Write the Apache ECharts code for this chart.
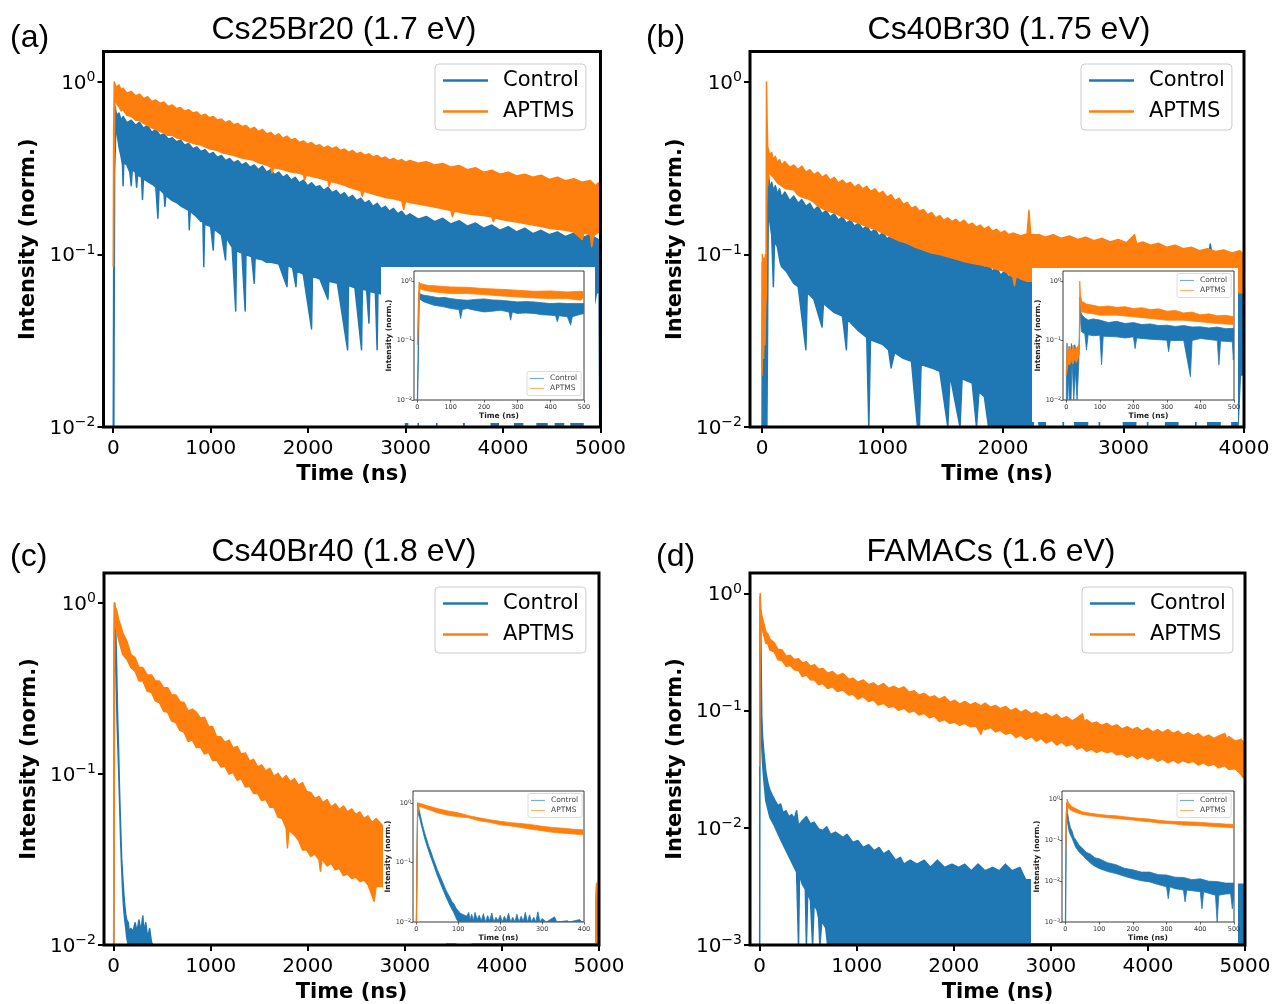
<!DOCTYPE html>
<html><head><meta charset="utf-8">
<script src="https://cdn.jsdelivr.net/npm/echarts/dist/echarts.min.js"></script>
<style>html,body{margin:0;padding:0;background:#fff}#c{width:1275px;height:1004px}</style>
</head><body><div id="c"></div>
<script>
// ---------------- tick labels ----------------
const X_TICKS_5000 = [0,1000,2000,3000,4000,5000];
const X_TICKS_4000 = [0,1000,2000,3000,4000];
const Y_TICKS_2 = [0.01,0.1,1];
const Y_TICKS_3 = [0.001,0.01,0.1,1];
const IN_X_500 = [0,100,200,300,400,500];
const IN_X_400 = [0,100,200,300,400];
const SERIES_NAMES = ['Control','APTMS'];
const TITLES = ['Cs25Br20 (1.7 eV)','Cs40Br30 (1.75 eV)','Cs40Br40 (1.8 eV)','FAMACs (1.6 eV)'];
const LETTERS = ['(a)','(b)','(c)','(d)'];

// ---------------- panel (a) : noisy band upper / lower edges [t(ns), I] ----------------
const A_CTRL_HI = [[0,0.01],[8,0.45],[18,0.72],[35,0.64],[59,0.66],[80,0.6],[101,0.63],[140,0.58],[185,0.6],[230,0.56],[269,0.585],[311,0.54],[353,0.56],[395,0.51],[437,0.53],[480,0.49],[521,0.5],[565,0.465],[606,0.475],[648,0.45],[690,0.46],[732,0.43],[774,0.44],[816,0.41],[858,0.42],[900,0.395],[942,0.405],[985,0.38],[1026,0.39],[1068,0.365],[1110,0.375],[1152,0.35],[1194,0.36],[1236,0.34],[1278,0.35],[1320,0.33],[1362,0.34],[1405,0.32],[1447,0.33],[1490,0.31],[1531,0.325],[1573,0.3],[1615,0.31],[1657,0.29],[1699,0.3],[1741,0.28],[1783,0.29],[1825,0.27],[1867,0.28],[1910,0.26],[1951,0.27],[1993,0.25],[2035,0.26],[2077,0.245],[2119,0.25],[2161,0.235],[2203,0.245],[2245,0.228],[2288,0.235],[2330,0.22],[2372,0.228],[2414,0.212],[2456,0.22],[2498,0.205],[2540,0.212],[2582,0.198],[2624,0.205],[2666,0.19],[2708,0.198],[2750,0.184],[2792,0.19],[2834,0.178],[2876,0.185],[2918,0.172],[2960,0.178],[3002,0.166],[3044,0.172],[3130,0.16],[3213,0.166],[3297,0.155],[3381,0.162],[3465,0.15],[3549,0.157],[3633,0.146],[3717,0.152],[3800,0.142],[3885,0.148],[3970,0.138],[4054,0.145],[4138,0.135],[4222,0.142],[4306,0.132],[4390,0.138],[4474,0.13],[4558,0.135],[4642,0.127],[4726,0.133],[4811,0.125],[4895,0.13],[4979,0.122],[5000,0.12]];
const A_CTRL_LO = [[6,0.01],[14,0.3],[25,0.5],[40,0.5],[59,0.42],[80,0.37],[95,0.33],[101,0.25],[108,0.34],[140,0.33],[170,0.3],[185,0.25],[195,0.31],[227,0.3],[240,0.245],[250,0.29],[290,0.28],[300,0.208],[310,0.275],[350,0.265],[400,0.255],[437,0.245],[458,0.162],[470,0.24],[521,0.225],[530,0.19],[540,0.22],[606,0.205],[648,0.2],[700,0.19],[774,0.18],[780,0.139],[790,0.178],[858,0.165],[900,0.155],[920,0.155],[929,0.085],[938,0.15],[1000,0.145],[1026,0.106],[1035,0.14],[1110,0.13],[1152,0.093],[1160,0.125],[1220,0.11],[1257,0.047],[1265,0.105],[1320,0.102],[1354,0.047],[1362,0.1],[1420,0.097],[1447,0.068],[1456,0.095],[1530,0.093],[1573,0.09],[1620,0.09],[1699,0.088],[1783,0.065],[1792,0.086],[1840,0.084],[1875,0.065],[1884,0.08],[1950,0.077],[2035,0.037],[2044,0.075],[2120,0.072],[2203,0.055],[2212,0.07],[2300,0.068],[2405,0.028],[2414,0.066],[2480,0.064],[2548,0.028],[2556,0.063],[2600,0.062],[2624,0.04],[2632,0.061],[2690,0.06],[2708,0.028],[2716,0.06],[2780,0.058],[2850,0.05],[2950,0.045],[3000,0.01],[3020,0.01],[3040,0.04],[3100,0.036],[3130,0.01],[3150,0.035],[3300,0.032],[3320,0.01],[3350,0.032],[3500,0.03],[3600,0.01],[3620,0.03],[3850,0.028],[3880,0.01],[3950,0.01],[3970,0.028],[4100,0.027],[4120,0.01],[4200,0.01],[4220,0.027],[4330,0.026],[4350,0.01],[4450,0.01],[4470,0.026],[4540,0.01],[4620,0.01],[4640,0.026],[4700,0.01],[4820,0.01],[4840,0.026],[4960,0.06],[4985,0.06],[4992,0.01],[5000,0.01]];
const A_APT_HI = [[0,0.085],[4,0.5],[10,1.0],[30,0.93],[59,0.96],[80,0.9],[101,0.92],[140,0.86],[185,0.88],[230,0.83],[269,0.85],[311,0.8],[353,0.82],[395,0.77],[437,0.785],[480,0.75],[521,0.765],[565,0.72],[606,0.735],[648,0.7],[690,0.71],[732,0.675],[774,0.69],[816,0.66],[858,0.67],[900,0.635],[942,0.65],[985,0.62],[1026,0.63],[1068,0.6],[1110,0.61],[1152,0.58],[1194,0.595],[1236,0.565],[1278,0.575],[1320,0.55],[1362,0.56],[1405,0.53],[1447,0.545],[1490,0.515],[1531,0.53],[1573,0.5],[1615,0.51],[1657,0.485],[1699,0.5],[1741,0.47],[1783,0.485],[1825,0.46],[1867,0.47],[1910,0.445],[1951,0.455],[1993,0.435],[2035,0.445],[2077,0.425],[2119,0.432],[2161,0.413],[2203,0.425],[2245,0.41],[2288,0.42],[2330,0.4],[2372,0.408],[2414,0.39],[2456,0.4],[2498,0.383],[2540,0.39],[2582,0.375],[2624,0.383],[2666,0.367],[2708,0.375],[2750,0.36],[2792,0.367],[2834,0.352],[2876,0.36],[2918,0.347],[2960,0.355],[3002,0.342],[3044,0.35],[3128,0.338],[3213,0.345],[3297,0.33],[3381,0.337],[3465,0.32],[3549,0.328],[3633,0.31],[3717,0.318],[3800,0.3],[3885,0.308],[3970,0.292],[4054,0.3],[4138,0.285],[4222,0.292],[4306,0.28],[4390,0.288],[4474,0.272],[4558,0.28],[4642,0.267],[4726,0.275],[4811,0.262],[4895,0.268],[4950,0.25],[4979,0.26],[5000,0.24]];
const A_APT_LO = [[2,0.085],[8,0.3],[17,0.79],[40,0.74],[59,0.72],[80,0.68],[101,0.69],[140,0.64],[185,0.63],[230,0.6],[270,0.6],[311,0.575],[353,0.56],[400,0.54],[437,0.53],[480,0.515],[521,0.505],[560,0.49],[606,0.49],[648,0.475],[700,0.465],[774,0.45],[820,0.44],[858,0.435],[900,0.43],[942,0.42],[985,0.41],[1026,0.405],[1070,0.4],[1110,0.39],[1152,0.385],[1194,0.38],[1236,0.375],[1278,0.368],[1320,0.362],[1362,0.358],[1405,0.355],[1447,0.35],[1490,0.34],[1531,0.335],[1573,0.33],[1615,0.322],[1630,0.296],[1645,0.318],[1699,0.315],[1741,0.31],[1783,0.305],[1825,0.3],[1867,0.298],[1910,0.295],[1951,0.29],[1965,0.27],[1980,0.288],[2035,0.284],[2077,0.28],[2119,0.276],[2161,0.272],[2203,0.268],[2215,0.248],[2230,0.265],[2288,0.26],[2330,0.256],[2372,0.252],[2414,0.246],[2456,0.242],[2498,0.238],[2540,0.234],[2555,0.217],[2570,0.232],[2624,0.228],[2666,0.224],[2708,0.22],[2750,0.217],[2792,0.214],[2876,0.21],[2960,0.205],[2981,0.182],[3000,0.203],[3044,0.2],[3129,0.196],[3213,0.192],[3297,0.188],[3381,0.184],[3465,0.18],[3480,0.166],[3500,0.178],[3549,0.176],[3633,0.172],[3717,0.17],[3800,0.168],[3885,0.165],[3900,0.155],[3920,0.163],[3970,0.16],[4054,0.157],[4138,0.154],[4222,0.151],[4306,0.148],[4390,0.145],[4474,0.142],[4558,0.14],[4642,0.138],[4726,0.135],[4811,0.122],[4830,0.133],[4895,0.13],[4910,0.111],[4930,0.128],[4979,0.135],[5000,0.13]];
const A_IN_CTRL_HI = [[0,0.01],[2,0.05],[4,0.65],[10,0.6],[20,0.575],[35,0.56],[50,0.54],[65,0.52],[80,0.53],[100,0.506],[120,0.49],[150,0.474],[175,0.49],[200,0.5],[225,0.48],[250,0.474],[275,0.46],[300,0.445],[325,0.45],[350,0.445],[375,0.43],[400,0.417],[425,0.425],[450,0.417],[475,0.42],[500,0.417]];
const A_IN_CTRL_LO = [[1,0.01],[6,0.5],[20,0.445],[50,0.39],[80,0.367],[100,0.344],[125,0.33],[130,0.234],[135,0.33],[150,0.344],[175,0.32],[200,0.302],[225,0.31],[250,0.322],[275,0.3],[280,0.219],[285,0.3],[300,0.284],[325,0.29],[350,0.284],[375,0.27],[400,0.266],[415,0.26],[420,0.206],[425,0.26],[450,0.25],[460,0.181],[465,0.25],[480,0.266],[500,0.284]];
const A_IN_APT_HI = [[0,0.085],[3,0.5],[5,0.96],[10,0.9],[30,0.846],[60,0.825],[100,0.793],[150,0.783],[200,0.744],[250,0.725],[300,0.698],[350,0.671],[400,0.68],[450,0.654],[490,0.671],[500,0.654]];
const A_IN_APT_LO = [[1,0.085],[4,0.3],[8,0.744],[20,0.698],[50,0.654],[100,0.613],[150,0.613],[200,0.59],[250,0.561],[300,0.539],[350,0.519],[400,0.506],[450,0.506],[490,0.474],[500,0.539]];

// ---------------- panel (b) ----------------
const B_CTRL_HI = [[0,0.01],[3,0.09],[8,0.03],[14,0.08],[20,0.04],[26,0.085],[32,0.05],[40,0.06],[50,0.28],[54,0.29],[65,0.24],[80,0.262],[94,0.235],[110,0.25],[128,0.225],[145,0.24],[162,0.215],[190,0.23],[230,0.205],[263,0.218],[300,0.198],[330,0.208],[364,0.19],[397,0.198],[430,0.18],[465,0.19],[498,0.172],[532,0.18],[565,0.165],[599,0.172],[633,0.158],[667,0.165],[700,0.152],[734,0.158],[767,0.146],[801,0.152],[835,0.14],[869,0.146],[902,0.134],[936,0.14],[970,0.128],[1003,0.134],[1037,0.123],[1071,0.128],[1105,0.12],[1138,0.126],[1172,0.117],[1205,0.122],[1240,0.112],[1273,0.118],[1306,0.108],[1340,0.113],[1374,0.104],[1407,0.108],[1441,0.1],[1475,0.104],[1508,0.097],[1542,0.1],[1575,0.094],[1609,0.098],[1643,0.091],[1677,0.095],[1710,0.088],[1744,0.093],[1778,0.086],[1811,0.09],[1845,0.084],[1879,0.087],[1912,0.08],[1946,0.084],[1980,0.076],[2013,0.08],[2047,0.074],[2081,0.078],[2114,0.072],[2148,0.076],[2182,0.07],[2215,0.075],[2300,0.074],[2485,0.078],[2620,0.08],[2754,0.082],[2889,0.084],[3024,0.085],[3158,0.087],[3293,0.088],[3340,0.11],[3360,0.088],[3428,0.09],[3562,0.09],[3697,0.09],[3720,0.115],[3745,0.09],[3832,0.088],[3966,0.088],[4000,0.087]];
const B_CTRL_LO = [[0,0.01],[40,0.01],[45,0.03],[52,0.2],[61,0.16],[80,0.13],[94,0.065],[104,0.12],[128,0.11],[150,0.09],[162,0.085],[200,0.08],[263,0.068],[300,0.065],[364,0.028],[375,0.06],[430,0.055],[498,0.038],[510,0.052],[600,0.046],[667,0.044],[700,0.028],[710,0.042],[801,0.036],[869,0.033],[886,0.01],[900,0.032],[1003,0.03],[1050,0.028],[1071,0.022],[1100,0.027],[1172,0.025],[1240,0.024],[1290,0.01],[1306,0.01],[1320,0.023],[1407,0.022],[1475,0.021],[1542,0.01],[1560,0.02],[1643,0.01],[1660,0.019],[1744,0.018],[1780,0.01],[1800,0.016],[1845,0.015],[1880,0.01],[2250,0.01],[2270,0.02],[2300,0.01],[2350,0.01],[2370,0.02],[2480,0.02],[2500,0.01],[2520,0.02],[2600,0.01],[2700,0.01],[2720,0.02],[2790,0.02],[2800,0.01],[2820,0.02],[2990,0.02],[3000,0.01],[3100,0.01],[3120,0.02],[3190,0.02],[3200,0.01],[3220,0.02],[3340,0.02],[3350,0.01],[3450,0.01],[3470,0.02],[3590,0.02],[3600,0.01],[3620,0.02],[3690,0.02],[3700,0.01],[3800,0.01],[3820,0.02],[3890,0.02],[3900,0.01],[3950,0.01],[3970,0.02],[4000,0.02]];
const B_APT_HI = [[0,0.025],[3,0.1],[10,0.06],[16,0.095],[22,0.07],[28,0.1],[33,0.08],[37,1.0],[42,0.6],[47,0.42],[54,0.4],[61,0.38],[80,0.39],[94,0.35],[110,0.37],[128,0.34],[145,0.355],[162,0.33],[190,0.345],[230,0.32],[263,0.33],[300,0.31],[330,0.325],[364,0.3],[397,0.31],[430,0.29],[465,0.3],[498,0.28],[532,0.29],[565,0.27],[599,0.28],[633,0.26],[667,0.27],[700,0.255],[734,0.262],[767,0.245],[801,0.255],[835,0.24],[869,0.248],[902,0.232],[936,0.24],[970,0.225],[1003,0.232],[1037,0.215],[1071,0.222],[1105,0.205],[1138,0.212],[1172,0.195],[1205,0.2],[1240,0.185],[1273,0.19],[1306,0.178],[1340,0.182],[1374,0.17],[1407,0.175],[1441,0.163],[1475,0.168],[1508,0.158],[1542,0.163],[1575,0.155],[1609,0.16],[1643,0.152],[1677,0.158],[1710,0.148],[1744,0.152],[1778,0.144],[1811,0.148],[1845,0.14],[1879,0.145],[1912,0.136],[1946,0.14],[1980,0.133],[2013,0.137],[2047,0.13],[2081,0.133],[2148,0.128],[2200,0.132],[2215,0.18],[2230,0.13],[2300,0.13],[2350,0.126],[2417,0.13],[2485,0.124],[2552,0.128],[2620,0.122],[2687,0.126],[2754,0.12],[2822,0.124],[2889,0.118],[2956,0.122],[3024,0.117],[3091,0.13],[3110,0.115],[3158,0.118],[3226,0.113],[3293,0.116],[3360,0.11],[3428,0.113],[3495,0.108],[3562,0.11],[3630,0.105],[3697,0.108],[3764,0.104],[3832,0.106],[3900,0.102],[3966,0.105],[4000,0.1]];
const B_APT_LO = [[0,0.02],[5,0.03],[12,0.025],[18,0.04],[24,0.03],[30,0.05],[36,0.06],[40,0.3],[47,0.25],[54,0.3],[61,0.296],[94,0.28],[128,0.26],[162,0.25],[200,0.24],[263,0.237],[300,0.22],[330,0.215],[397,0.208],[430,0.2],[465,0.19],[532,0.18],[599,0.174],[667,0.165],[734,0.158],[801,0.152],[869,0.145],[936,0.14],[1003,0.133],[1071,0.126],[1138,0.12],[1205,0.116],[1273,0.11],[1340,0.106],[1407,0.102],[1475,0.1],[1542,0.097],[1609,0.094],[1677,0.091],[1744,0.089],[1811,0.087],[1879,0.085],[1946,0.082],[2013,0.08],[2081,0.074],[2095,0.066],[2110,0.075],[2148,0.072],[2200,0.07],[2300,0.07],[2500,0.068],[2800,0.066],[3100,0.064],[3400,0.062],[3700,0.06],[4000,0.06]];
const B_IN_CTRL_HI = [[0,0.03],[2,0.09],[5,0.04],[8,0.08],[12,0.05],[15,0.089],[20,0.06],[25,0.085],[30,0.065],[35,0.08],[38,0.07],[40,0.54],[43,0.3],[47,0.266],[55,0.24],[65,0.22],[80,0.23],[100,0.22],[125,0.2],[150,0.21],[175,0.193],[200,0.2],[225,0.185],[250,0.19],[275,0.178],[300,0.181],[325,0.172],[350,0.178],[375,0.168],[400,0.17],[425,0.162],[450,0.168],[475,0.158],[500,0.16]];
const B_IN_CTRL_LO = [[0,0.01],[4,0.01],[6,0.026],[9,0.01],[14,0.01],[17,0.05],[22,0.01],[27,0.03],[32,0.01],[37,0.04],[41,0.3],[45,0.14],[55,0.13],[60,0.069],[65,0.125],[80,0.12],[100,0.123],[105,0.039],[110,0.118],[150,0.115],[175,0.11],[200,0.115],[205,0.073],[210,0.11],[250,0.105],[300,0.101],[305,0.0646],[310,0.1],[350,0.1],[370,0.0246],[375,0.1],[400,0.108],[450,0.1],[455,0.039],[460,0.098],[495,0.095],[498,0.047],[500,0.09]];
const B_IN_APT_HI = [[0,0.026],[2,0.084],[6,0.06],[10,0.08],[15,0.065],[20,0.084],[25,0.07],[30,0.075],[35,0.08],[39,0.09],[40,1.0],[42,0.6],[46,0.45],[50,0.445],[60,0.41],[80,0.39],[100,0.367],[125,0.38],[150,0.36],[175,0.37],[200,0.344],[225,0.355],[250,0.33],[275,0.34],[300,0.31],[325,0.32],[350,0.29],[375,0.3],[400,0.27],[425,0.28],[450,0.26],[475,0.265],[500,0.25]];
const B_IN_APT_LO = [[0,0.026],[5,0.04],[10,0.039],[15,0.045],[20,0.04],[25,0.05],[30,0.042],[35,0.05],[39,0.06],[41,0.5],[45,0.3],[50,0.3],[60,0.29],[80,0.28],[100,0.266],[150,0.266],[200,0.25],[250,0.235],[300,0.219],[350,0.219],[400,0.206],[450,0.193],[500,0.185]];

// ---------------- panel (c) ----------------
const C_CTRL_HI = [[0,0.01],[6,0.6],[10,1.0],[20,0.75],[29,0.46],[40,0.22],[50,0.14],[60,0.08],[72,0.048],[82,0.032],[93,0.025],[104,0.02],[114,0.017],[125,0.015],[135,0.014],[150,0.0135],[160,0.012],[177,0.0125],[200,0.012],[220,0.0135],[240,0.012],[260,0.014],[280,0.012],[300,0.0148],[310,0.012],[330,0.0135],[350,0.011],[370,0.0125],[388,0.0105],[400,0.01]];
const C_CTRL_LO = [[0,0.01],[8,0.5],[15,0.6],[25,0.38],[35,0.2],[50,0.11],[60,0.07],[72,0.04],[82,0.028],[93,0.02],[104,0.016],[114,0.014],[125,0.0125],[135,0.011],[150,0.01],[400,0.01]];
const C_APT_HI = [[0,0.01],[3,0.5],[6,1.0],[15,0.95],[29,0.915],[51,0.8],[72,0.74],[93,0.67],[135,0.6],[177,0.5],[220,0.48],[261,0.42],[300,0.42],[345,0.38],[390,0.38],[430,0.35],[470,0.35],[514,0.32],[556,0.32],[598,0.29],[640,0.29],[682,0.265],[725,0.262],[767,0.233],[810,0.24],[851,0.23],[893,0.212],[935,0.215],[977,0.19],[1019,0.19],[1060,0.165],[1104,0.165],[1146,0.153],[1188,0.158],[1230,0.142],[1272,0.145],[1314,0.131],[1356,0.133],[1400,0.119],[1441,0.122],[1483,0.11],[1525,0.113],[1567,0.104],[1609,0.108],[1650,0.097],[1693,0.101],[1735,0.093],[1778,0.098],[1820,0.09],[1862,0.094],[1904,0.086],[1946,0.089],[1988,0.079],[2030,0.078],[2072,0.072],[2115,0.074],[2157,0.068],[2199,0.071],[2241,0.064],[2283,0.067],[2325,0.062],[2367,0.065],[2410,0.06],[2452,0.0625],[2494,0.058],[2536,0.06],[2578,0.055],[2620,0.057],[2662,0.052],[2704,0.055],[2767,0.05],[2850,0.047],[3000,0.042],[3200,0.035],[3400,0.03],[3600,0.026],[4000,0.022],[4500,0.018],[4960,0.016],[4975,0.023],[4990,0.015],[5000,0.012]];
const C_APT_LO = [[0,0.01],[2,0.01],[10,0.8],[29,0.7],[51,0.61],[93,0.5],[135,0.47],[177,0.42],[220,0.4],[261,0.35],[300,0.35],[345,0.305],[390,0.3],[430,0.267],[470,0.262],[514,0.233],[556,0.23],[598,0.204],[640,0.2],[682,0.18],[725,0.176],[767,0.155],[810,0.158],[851,0.143],[893,0.144],[935,0.131],[977,0.134],[1019,0.12],[1060,0.121],[1104,0.11],[1146,0.111],[1188,0.1],[1230,0.102],[1272,0.092],[1314,0.094],[1356,0.084],[1400,0.085],[1441,0.077],[1483,0.077],[1525,0.07],[1567,0.071],[1609,0.064],[1650,0.064],[1693,0.056],[1735,0.055],[1778,0.048],[1790,0.037],[1805,0.047],[1862,0.044],[1904,0.041],[1946,0.036],[1988,0.036],[2030,0.033],[2072,0.034],[2115,0.0315],[2130,0.027],[2145,0.032],[2199,0.029],[2241,0.03],[2283,0.0275],[2325,0.028],[2367,0.0255],[2410,0.026],[2452,0.0245],[2494,0.025],[2536,0.0235],[2578,0.024],[2620,0.0225],[2683,0.018],[2704,0.022],[2767,0.022],[2900,0.02],[3100,0.017],[3300,0.014],[3440,0.01],[3520,0.01],[3540,0.012],[3660,0.012],[3700,0.01],[5000,0.01]];
const C_IN_CTRL_HI = [[0,0.01],[2,0.3],[3,1.0],[6,0.8],[10,0.6],[15,0.42],[20,0.31],[25,0.24],[30,0.185],[35,0.15],[40,0.118],[45,0.095],[50,0.076],[55,0.063],[60,0.052],[65,0.043],[70,0.035],[75,0.03],[80,0.026],[85,0.022],[90,0.02],[95,0.017],[100,0.0155],[105,0.014],[110,0.0135],[115,0.013],[120,0.0125],[125,0.0145],[128,0.011],[132,0.0135],[136,0.0105],[140,0.0145],[145,0.011],[150,0.013],[155,0.0105],[160,0.0138],[165,0.01],[170,0.0128],[175,0.0105],[180,0.0142],[185,0.01],[190,0.012],[195,0.0105],[200,0.013],[205,0.01],[210,0.0125],[215,0.0105],[220,0.014],[225,0.01],[230,0.012],[235,0.01],[240,0.0135],[245,0.01],[250,0.0125],[255,0.0102],[260,0.0145],[265,0.01],[270,0.0132],[275,0.01],[280,0.012],[285,0.01],[290,0.0148],[295,0.01],[300,0.0115],[310,0.01],[330,0.0122],[335,0.01],[360,0.0105],[365,0.01],[390,0.011],[395,0.01],[400,0.01]];
const C_IN_CTRL_LO = [[0,0.01],[3,0.7],[8,0.55],[12,0.42],[20,0.25],[30,0.15],[40,0.095],[50,0.06],[60,0.04],[70,0.027],[80,0.019],[90,0.014],[95,0.0115],[100,0.01],[400,0.01]];
const C_IN_APT_HI = [[0,0.01],[2,0.3],[3,1.0],[10,0.974],[25,0.9],[50,0.803],[75,0.73],[100,0.68],[125,0.61],[150,0.56],[175,0.52],[200,0.49],[225,0.465],[250,0.449],[275,0.43],[300,0.405],[325,0.385],[350,0.375],[375,0.36],[400,0.352]];
const C_IN_APT_LO = [[1,0.01],[3,0.6],[6,0.87],[10,0.857],[25,0.79],[50,0.68],[75,0.62],[100,0.582],[125,0.56],[150,0.5],[175,0.47],[200,0.43],[225,0.41],[250,0.385],[275,0.36],[300,0.34],[325,0.32],[350,0.31],[375,0.3],[400,0.29]];

// ---------------- panel (d) ----------------
const D_CTRL_HI = [[0,0.001],[2,0.3],[5,0.95],[10,0.6],[15,0.25],[21,0.09],[30,0.06],[42,0.045],[63,0.03],[85,0.024],[105,0.021],[130,0.019],[160,0.017],[188,0.0155],[215,0.016],[240,0.0135],[272,0.014],[300,0.0125],[330,0.013],[356,0.012],[380,0.014],[400,0.0105],[439,0.0115],[481,0.0125],[523,0.0108],[560,0.0112],[607,0.0098],[649,0.0095],[690,0.0102],[730,0.0088],[780,0.0092],[858,0.0083],[900,0.0088],[960,0.0075],[1010,0.0078],[1067,0.0068],[1120,0.0072],[1180,0.0064],[1230,0.0068],[1276,0.006],[1330,0.0064],[1400,0.0053],[1450,0.0056],[1485,0.0049],[1550,0.0053],[1620,0.0049],[1695,0.0053],[1760,0.0046],[1830,0.0053],[1904,0.0046],[1980,0.0049],[2050,0.0046],[2113,0.0049],[2180,0.0043],[2250,0.0049],[2322,0.0043],[2400,0.0046],[2470,0.0043],[2531,0.0049],[2600,0.0043],[2680,0.0046],[2741,0.0036],[2790,0.0036],[3000,0.0033],[5000,0.0033]];
const D_CTRL_LO = [[0,0.001],[3,0.3],[8,0.5],[15,0.12],[21,0.05],[30,0.035],[42,0.026],[63,0.017],[105,0.0123],[150,0.0105],[188,0.0089],[230,0.0075],[272,0.0064],[310,0.0055],[356,0.0046],[380,0.0042],[400,0.001],[410,0.004],[439,0.0033],[470,0.003],[481,0.001],[495,0.0028],[523,0.0024],[545,0.001],[560,0.0022],[590,0.002],[607,0.0017],[620,0.001],[640,0.0016],[680,0.0014],[700,0.001],[5000,0.001]];
const D_APT_HI = [[0,0.034],[3,0.5],[5,1.0],[10,0.75],[21,0.655],[42,0.56],[63,0.473],[85,0.45],[105,0.41],[150,0.38],[188,0.335],[230,0.33],[272,0.292],[314,0.298],[356,0.274],[400,0.278],[439,0.256],[481,0.262],[523,0.24],[565,0.247],[607,0.226],[649,0.23],[700,0.209],[750,0.216],[800,0.199],[858,0.208],[920,0.185],[960,0.19],[1010,0.175],[1067,0.183],[1120,0.167],[1170,0.173],[1220,0.161],[1276,0.171],[1330,0.155],[1380,0.162],[1430,0.153],[1485,0.16],[1540,0.144],[1590,0.148],[1640,0.136],[1695,0.141],[1750,0.13],[1800,0.134],[1850,0.125],[1904,0.132],[1960,0.118],[2010,0.123],[2060,0.114],[2113,0.12],[2170,0.112],[2220,0.117],[2280,0.11],[2322,0.116],[2380,0.107],[2430,0.111],[2480,0.104],[2531,0.109],[2590,0.1],[2640,0.105],[2690,0.097],[2741,0.102],[2800,0.094],[2850,0.098],[2900,0.091],[2950,0.095],[3010,0.088],[3060,0.093],[3110,0.085],[3159,0.089],[3220,0.082],[3270,0.087],[3326,0.094],[3345,0.08],[3368,0.084],[3420,0.078],[3470,0.08],[3520,0.075],[3577,0.078],[3630,0.073],[3680,0.076],[3730,0.07],[3787,0.073],[3840,0.069],[3890,0.072],[3940,0.067],[3996,0.071],[4050,0.066],[4100,0.069],[4150,0.065],[4205,0.069],[4260,0.064],[4310,0.067],[4360,0.062],[4414,0.065],[4470,0.061],[4520,0.064],[4570,0.059],[4623,0.062],[4680,0.058],[4730,0.061],[4791,0.064],[4810,0.057],[4833,0.06],[4900,0.055],[4958,0.057],[5000,0.052]];
const D_APT_LO = [[1,0.034],[4,0.3],[10,0.6],[21,0.52],[42,0.44],[63,0.378],[85,0.37],[105,0.33],[150,0.318],[188,0.273],[230,0.268],[272,0.239],[314,0.245],[356,0.224],[400,0.221],[439,0.196],[481,0.202],[523,0.184],[565,0.183],[607,0.167],[649,0.171],[700,0.155],[750,0.16],[800,0.146],[858,0.15],[920,0.136],[960,0.139],[1010,0.126],[1067,0.132],[1120,0.12],[1170,0.124],[1220,0.112],[1276,0.116],[1330,0.107],[1380,0.109],[1430,0.101],[1485,0.105],[1540,0.097],[1590,0.1],[1640,0.092],[1695,0.095],[1750,0.087],[1800,0.09],[1850,0.081],[1904,0.084],[1960,0.078],[2010,0.08],[2060,0.075],[2113,0.078],[2170,0.073],[2230,0.074],[2280,0.063],[2300,0.072],[2322,0.069],[2380,0.072],[2430,0.066],[2480,0.068],[2531,0.063],[2590,0.065],[2640,0.059],[2690,0.062],[2741,0.057],[2800,0.06],[2850,0.055],[2900,0.058],[2950,0.053],[3010,0.056],[3060,0.051],[3110,0.054],[3159,0.05],[3220,0.052],[3270,0.047],[3320,0.049],[3368,0.045],[3420,0.047],[3470,0.044],[3520,0.046],[3577,0.044],[3630,0.045],[3680,0.042],[3730,0.043],[3787,0.04],[3840,0.042],[3890,0.039],[3940,0.041],[3996,0.0385],[4050,0.04],[4100,0.037],[4150,0.0386],[4205,0.036],[4260,0.038],[4310,0.0357],[4360,0.0376],[4414,0.036],[4470,0.037],[4520,0.0344],[4570,0.036],[4623,0.0339],[4680,0.035],[4730,0.0325],[4790,0.034],[4833,0.0317],[4900,0.032],[4958,0.0287],[4980,0.0269],[5000,0.027]];
const D_IN_CTRL_HI = [[0,0.001],[2,0.3],[4,0.8],[6,0.49],[10,0.3],[15,0.2],[20,0.165],[25,0.118],[30,0.104],[40,0.076],[50,0.064],[62,0.05],[75,0.045],[87,0.037],[100,0.035],[125,0.028],[150,0.025],[175,0.0205],[200,0.0188],[225,0.0165],[250,0.0165],[275,0.0143],[300,0.014],[325,0.0124],[350,0.0122],[375,0.0108],[400,0.0113],[425,0.0099],[450,0.0097],[475,0.0089],[500,0.0089]];
const D_IN_CTRL_LO = [[1,0.001],[3,0.3],[5,0.35],[8,0.22],[12,0.15],[20,0.11],[30,0.068],[40,0.052],[50,0.043],[62,0.034],[75,0.027],[87,0.023],[100,0.0202],[125,0.017],[150,0.0152],[175,0.013],[200,0.0114],[225,0.0102],[250,0.0095],[275,0.0082],[300,0.0072],[305,0.0037],[310,0.0072],[325,0.0065],[350,0.006],[355,0.0031],[360,0.006],[375,0.0058],[400,0.0055],[405,0.0021],[410,0.0055],[425,0.005],[445,0.0045],[450,0.001],[455,0.0045],[475,0.0048],[490,0.0049],[495,0.0021],[500,0.0049]];
const D_IN_APT_HI = [[0,0.043],[3,0.5],[5,1.0],[10,0.784],[20,0.65],[35,0.56],[50,0.49],[75,0.45],[100,0.422],[125,0.4],[150,0.391],[175,0.37],[200,0.35],[225,0.335],[250,0.324],[275,0.305],[300,0.29],[325,0.285],[350,0.279],[375,0.275],[400,0.269],[425,0.26],[450,0.254],[475,0.245],[500,0.24]];
const D_IN_APT_LO = [[1,0.043],[4,0.4],[8,0.62],[10,0.591],[20,0.509],[35,0.46],[50,0.422],[75,0.39],[100,0.37],[125,0.35],[150,0.337],[175,0.32],[200,0.307],[225,0.29],[250,0.279],[275,0.26],[300,0.254],[325,0.245],[350,0.231],[375,0.227],[400,0.223],[425,0.218],[450,0.211],[475,0.205],[500,0.199]];

// ---------------- styling / layout ----------------
const BLUE = '#1f77b4', ORANGE = '#ff7f0e';
const F = 'DejaVu Sans';
const TF = 'Liberation Sans';

const PANELS = [
  { main:{left:103.5,top:51.5,width:497,height:375.5}, xmax:5000, ymin:0.01, xt:X_TICKS_5000, yt:Y_TICKS_2,
    leg:{left:435,top:64},
    title:{x:344,y:30}, letter:{x:10,y:38},
    inset:{grid:{left:414,top:271,width:170,height:129}, xmin:-10, xmax:500, ymin:0.01, ymax:1.47, xt:IN_X_500, yt:Y_TICKS_2,
           cover:[381,267,214,156], leg:{left:527,top:371.5}},
    data:[A_CTRL_HI,A_CTRL_LO,A_APT_HI,A_APT_LO], idata:[A_IN_CTRL_HI,A_IN_CTRL_LO,A_IN_APT_HI,A_IN_APT_LO] },
  { main:{left:750,top:51.5,width:494,height:375.5}, xmax:4000, ymin:0.01, xt:X_TICKS_4000, yt:Y_TICKS_2,
    leg:{left:1081,top:64},
    title:{x:1009,y:30}, letter:{x:646,y:38},
    inset:{grid:{left:1063,top:271,width:171,height:129}, xmin:-10, xmax:500, ymin:0.01, ymax:1.47, xt:IN_X_500, yt:Y_TICKS_2,
           cover:[1032,268,206,154], leg:{left:1177,top:273.5}},
    data:[B_CTRL_HI,B_CTRL_LO,B_APT_HI,B_APT_LO], idata:[B_IN_CTRL_HI,B_IN_CTRL_LO,B_IN_APT_HI,B_IN_APT_LO] },
  { main:{left:104,top:573,width:495,height:375}, xmax:5000, ymin:0.01, xt:X_TICKS_5000, yt:Y_TICKS_2,
    leg:{left:435,top:587},
    title:{x:344,y:552}, letter:{x:10,y:557},
    inset:{grid:{left:413,top:791,width:171,height:131}, xmin:-8, xmax:400, ymin:0.01, ymax:1.58, xt:IN_X_400, yt:Y_TICKS_2,
           cover:[383,789,212,154], leg:{left:528,top:793.5}},
    data:[C_CTRL_HI,C_CTRL_LO,C_APT_HI,C_APT_LO], idata:[C_IN_CTRL_HI,C_IN_CTRL_LO,C_IN_APT_HI,C_IN_APT_LO] },
  { main:{left:750,top:573,width:495,height:374}, xmax:5000, ymin:0.001, xt:X_TICKS_5000, yt:Y_TICKS_3,
    leg:{left:1082,top:587},
    title:{x:991,y:552}, letter:{x:656,y:557},
    inset:{grid:{left:1062,top:791,width:172,height:131}, xmin:-10, xmax:500, ymin:0.001, ymax:1.57, xt:IN_X_500, yt:Y_TICKS_3,
           cover:[1031,789,207,154], leg:{left:1177,top:793.5}},
    data:[D_CTRL_HI,D_CTRL_LO,D_APT_HI,D_APT_LO], idata:[D_IN_CTRL_HI,D_IN_CTRL_LO,D_IN_APT_HI,D_IN_APT_LO] }
];

function supFmt(v){
  const e = Math.round(Math.log10(v));
  return '{b|10}{s|' + (e < 0 ? '\u2212' + (-e) : String(e)) + '}';
}
function plainFmt(v){ return String(v); }

function band(name, color, xi, yi, hi, lo, lw, z){
  const poly = hi.concat(lo.slice().reverse());
  return {
    type:'custom', name:name, xAxisIndex:xi, yAxisIndex:yi, z:z, silent:true, clip:true,
    itemStyle:{color:color},
    data: poly,
    renderItem: function(params, api){
      if (params.dataIndex !== 0) return null;
      const pts = poly.map(function(p){ return api.coord(p); });
      return { type:'polygon', shape:{points:pts},
               style:{fill:color, stroke:color, lineWidth:lw, lineJoin:'round'} };
    }
  };
}

const grids = [], xAxes = [], yAxes = [], series = [], legends = [], graphics = [];

PANELS.forEach(function(P, k){
  const gi = grids.length;
  grids.push(Object.assign({show:true, borderColor:'#000', borderWidth:3, z:10, containLabel:false}, P.main));
  xAxes.push({ gridIndex:gi, type:'value', min:-100, max:P.xmax,
    axisLine:{show:false, onZero:false}, splitLine:{show:false},
    axisTick:{show:true, length:6, lineStyle:{width:2,color:'#000'}, customValues:P.xt},
    axisLabel:{customValues:P.xt, formatter:plainFmt, fontSize:20, fontFamily:F, color:'#000', margin:12},
    name:'Time (ns)', nameLocation:'middle', nameGap:37,
    nameTextStyle:{fontFamily:F, fontWeight:'bold', fontSize:21, color:'#000'} });
  yAxes.push({ gridIndex:gi, type:'log', logBase:10, min:P.ymin, max:1.5,
    axisLine:{show:false, onZero:false}, splitLine:{show:false}, minorTick:{show:false},
    axisTick:{show:true, length:6, lineStyle:{width:2,color:'#000'}, customValues:P.yt},
    axisLabel:{customValues:P.yt, formatter:supFmt, margin:8,
      rich:{ b:{fontSize:20, lineHeight:23, verticalAlign:'bottom', fontFamily:F, color:'#000'},
             s:{fontSize:14, lineHeight:14, verticalAlign:'top', fontFamily:F, color:'#000'} } },
    name:'Intensity (norm.)', nameLocation:'middle', nameGap:64, nameRotate:90,
    nameTextStyle:{fontFamily:F, fontWeight:'bold', fontSize:21, color:'#000'} });
  const ax = xAxes.length - 1;
  series.push(band('Control', BLUE, ax, ax, P.data[0], P.data[1], 1.5, 2));
  series.push(band('APTMS', ORANGE, ax, ax, P.data[2], P.data[3], 1.5, 3));
  legends.push({ data:SERIES_NAMES, orient:'vertical', left:P.leg.left, top:P.leg.top, z:8,
    icon:'rect', itemWidth:45, itemHeight:2.5, itemGap:10, padding:[6,7,8,8],
    textStyle:{fontSize:21, fontFamily:F, color:'#000', padding:[0,0,0,10]},
    borderColor:'#cccccc', borderWidth:1, borderRadius:4, backgroundColor:'rgba(255,255,255,0.85)',
    selectedMode:false });

  graphics.push({ type:'text', x:P.title.x, y:P.title.y, z:50,
    style:{ text:TITLES[k], font:'32px "' + TF + '"', fill:'#000', textAlign:'center', textVerticalAlign:'middle' } });
  graphics.push({ type:'text', x:P.letter.x, y:P.letter.y, z:50,
    style:{ text:LETTERS[k], font:'32px "' + TF + '"', fill:'#000', textAlign:'left', textVerticalAlign:'middle' } });

  const I = P.inset;
  graphics.push({ type:'rect', z:20, shape:{x:I.cover[0], y:I.cover[1], width:I.cover[2], height:I.cover[3]},
    style:{fill:'#fff'} });

  const gj = grids.length;
  grids.push(Object.assign({show:true, borderColor:'#222', borderWidth:0.9, z:30, backgroundColor:'rgba(0,0,0,0)'}, I.grid));
  xAxes.push({ gridIndex:gj, type:'value', min:I.xmin, max:I.xmax, z:30,
    axisLine:{show:false, onZero:false}, splitLine:{show:false},
    axisTick:{show:true, length:2.5, lineStyle:{width:0.7,color:'#222'}, customValues:I.xt},
    axisLabel:{customValues:I.xt, formatter:plainFmt, fontSize:6.5, fontFamily:F, color:'#333', margin:4},
    name:'Time (ns)', nameLocation:'middle', nameGap:12,
    nameTextStyle:{fontFamily:F, fontWeight:'bold', fontSize:7.5, color:'#222'} });
  yAxes.push({ gridIndex:gj, type:'log', logBase:10, min:I.ymin, max:I.ymax, z:30,
    axisLine:{show:false, onZero:false}, splitLine:{show:false}, minorTick:{show:false},
    axisTick:{show:true, length:2.5, lineStyle:{width:0.7,color:'#222'}, customValues:I.yt},
    axisLabel:{customValues:I.yt, formatter:supFmt, margin:2,
      rich:{ b:{fontSize:6.5, lineHeight:7.5, verticalAlign:'bottom', fontFamily:F, color:'#333'},
             s:{fontSize:4.8, lineHeight:4.8, verticalAlign:'top', fontFamily:F, color:'#333'} } },
    name:'Intensity (norm.)', nameLocation:'middle', nameGap:21, nameRotate:90,
    nameTextStyle:{fontFamily:F, fontWeight:'bold', fontSize:7.5, color:'#222'} });
  const ix = xAxes.length - 1;
  series.push(band('Control', BLUE, ix, ix, P.idata[0], P.idata[1], 0.8, 31));
  series.push(band('APTMS', ORANGE, ix, ix, P.idata[2], P.idata[3], 0.8, 32));
  legends.push({ data:SERIES_NAMES, orient:'vertical', left:I.leg.left, top:I.leg.top, z:35,
    icon:'rect', itemWidth:14, itemHeight:1.2, itemGap:2, padding:[3,4,3,3],
    itemStyle:{opacity:0.6},
    textStyle:{fontSize:7.5, fontFamily:F, color:'#444', padding:[0,0,0,1]},
    borderColor:'#cccccc', borderWidth:0.7, borderRadius:2, backgroundColor:'rgba(255,255,255,0.85)',
    selectedMode:false });
});

const chart = echarts.init(document.getElementById('c'), null, {renderer:'canvas'});
chart.setOption({
  animation:false,
  backgroundColor:'#fff',
  grid:grids, xAxis:xAxes, yAxis:yAxes, series:series, legend:legends,
  graphic:{elements:graphics}
});
</script></body></html>
